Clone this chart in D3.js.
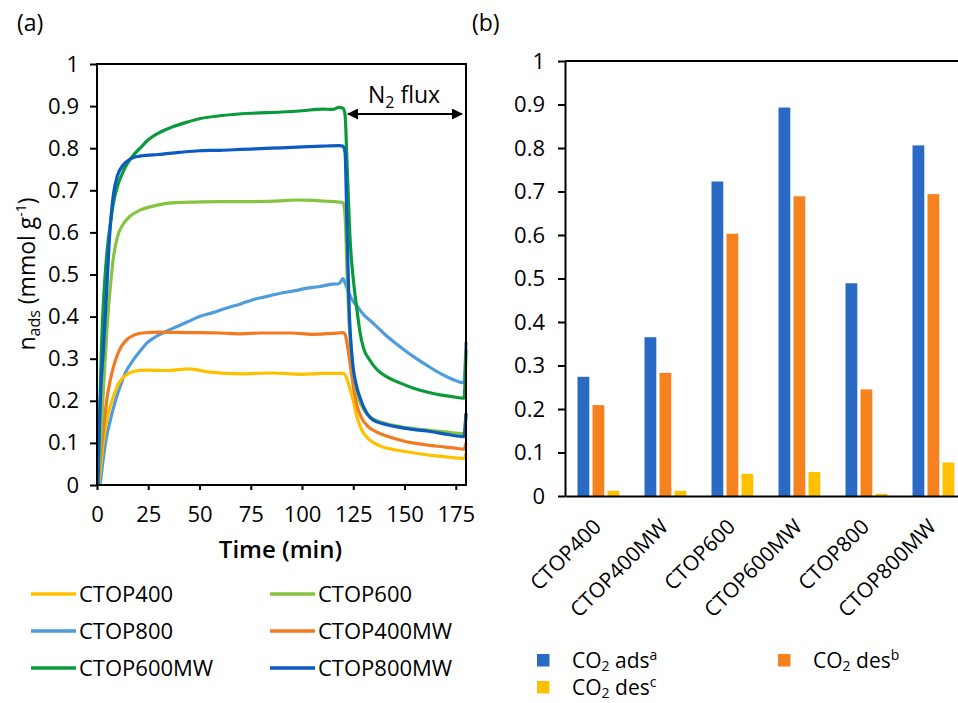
<!DOCTYPE html>
<html>
<head>
<meta charset="utf-8">
<script src="https://cdnjs.cloudflare.com/ajax/libs/d3/7.8.5/d3.min.js"></script>
<style>
  html, body { margin: 0; padding: 0; background: #fff; }
  svg { display: block; font-family: "Open Sans", "Noto Sans", sans-serif; }
</style>
</head>
<body>
<svg id="chart" width="958" height="703"></svg>
<script>
// ---------- DATA: panel (a) ----------
const timeTicks = [0, 25, 50, 75, 100, 125, 150, 175];
const yTicksA = [0, 0.1, 0.2, 0.3, 0.4, 0.5, 0.6, 0.7, 0.8, 0.9, 1];

const ctop400 = [[0.8,0],[1.5,0.03],[3,0.10],[5,0.16],[8,0.21],[11,0.245],[14.5,0.262],[18,0.27],[24,0.273],[35,0.272],[45,0.276],[55,0.268],[70,0.264],[85,0.266],[100,0.263],[110,0.265],[120,0.265],[121,0.262],[123,0.235],[125,0.20],[127,0.158],[129,0.132],[133,0.107],[138,0.093],[146,0.083],[155,0.076],[162,0.071],[170,0.067],[179,0.063],[180,0.075]];
const ctop600 = [[0.5,0],[2,0.12],[3.5,0.26],[5,0.38],[6.5,0.47],[8,0.54],[10,0.59],[12.8,0.62],[16,0.638],[21,0.653],[28,0.663],[34,0.669],[48,0.672],[60,0.673],[75,0.673],[90,0.675],[97,0.677],[105,0.676],[112,0.674],[118,0.672],[120,0.671],[121,0.64],[122,0.5],[123,0.38],[124.5,0.29],[126,0.24],[128,0.2],[130,0.18],[133,0.162],[137,0.152],[141,0.146],[150,0.137],[162,0.13],[170,0.126],[179,0.122],[180,0.17]];
const ctop800 = [[1.5,0],[3,0.06],[4.5,0.11],[6.3,0.15],[9,0.2],[11.2,0.233],[14,0.268],[17.7,0.297],[21,0.318],[24.3,0.337],[30,0.356],[37,0.372],[44,0.387],[50,0.4],[57,0.41],[63,0.42],[70,0.43],[76,0.44],[83,0.448],[89,0.455],[96,0.461],[102,0.467],[108,0.471],[115,0.477],[118,0.478],[120,0.49],[121,0.48],[122.5,0.46],[124.5,0.44],[127,0.424],[130,0.405],[134.8,0.384],[141,0.355],[148,0.328],[154.4,0.305],[161,0.284],[167.4,0.265],[173,0.252],[179,0.243],[180,0.34]];
const ctop400mw = [[0.5,0],[2,0.08],[3.5,0.15],[5,0.21],[6.5,0.25],[8,0.28],[10,0.31],[12,0.33],[14.5,0.345],[18,0.356],[22,0.361],[30,0.363],[45,0.362],[60,0.361],[70,0.359],[80,0.361],[95,0.361],[105,0.358],[115,0.36],[120,0.362],[121,0.358],[122.5,0.32],[124,0.27],[125.5,0.22],[127,0.185],[129,0.16],[132,0.14],[136,0.127],[142,0.115],[150,0.104],[158,0.097],[166,0.092],[174,0.088],[179,0.085],[180,0.1]];
const ctop600mw = [[0.5,0],[1.2,0.15],[2,0.3],[3,0.42],[4,0.5],[5,0.56],[6.5,0.62],[8,0.67],[10,0.71],[12.8,0.745],[15,0.765],[18,0.785],[21,0.8],[25,0.82],[30,0.836],[37,0.851],[44,0.862],[50,0.87],[60,0.877],[75,0.883],[90,0.886],[100,0.889],[110,0.893],[115,0.892],[118,0.897],[120,0.895],[121,0.88],[122,0.76],[123.5,0.58],[125,0.49],[126.7,0.42],[128.4,0.36],[130,0.325],[133,0.297],[137,0.272],[141.4,0.257],[148,0.242],[154.4,0.23],[161,0.221],[167.4,0.214],[173,0.21],[179,0.206],[180,0.32]];
const ctop800mw = [[0.3,0],[1,0.12],[2,0.24],[3.1,0.32],[4.7,0.46],[6,0.58],[8,0.69],[10,0.735],[12.8,0.76],[15,0.77],[17.7,0.778],[22,0.782],[30,0.785],[40,0.79],[50,0.794],[60,0.795],[70,0.797],[80,0.799],[90,0.801],[100,0.803],[110,0.805],[118,0.806],[120,0.805],[121,0.79],[122,0.6],[123,0.42],[124.5,0.3],[126.7,0.233],[128.5,0.205],[130,0.186],[132,0.168],[134.8,0.154],[140,0.145],[146.3,0.138],[154,0.132],[162.5,0.127],[170,0.121],[179,0.115],[180,0.17]];

const lineNames = ["CTOP400", "CTOP600", "CTOP800", "CTOP400MW", "CTOP600MW", "CTOP800MW"];
const lineColors = ["#FFC000", "#86C440", "#4E9BDD", "#F47A22", "#0A9A3C", "#0B5BC2"];
const lineData = [ctop400, ctop600, ctop800, ctop400mw, ctop600mw, ctop800mw];
const drawOrder = [2, 0, 3, 1, 4, 5];

// ---------- DATA: panel (b) ----------
const categories = ["CTOP400", "CTOP400MW", "CTOP600", "CTOP600MW", "CTOP800", "CTOP800MW"];
const co2Ads  = [0.274, 0.365, 0.723, 0.893, 0.489, 0.806];
const co2DesB = [0.209, 0.283, 0.603, 0.689, 0.245, 0.694];
const co2DesC = [0.012, 0.012, 0.051, 0.055, 0.005, 0.077];
const barColors = ["#2A6AC4", "#F5811F", "#FFC000"];
const yTicksB = [0, 0.1, 0.2, 0.3, 0.4, 0.5, 0.6, 0.7, 0.8, 0.9, 1];

const svg = d3.select("#chart");
const fmt = d => d === 0 ? "0" : d === 1 ? "1" : d3.format(".1f")(d);
const FONT = "'Open Sans', 'Noto Sans', sans-serif";
const FS = 22;

// ================= Panel (a) =================
const ax = {l: 97, r: 466, t: 64, b: 485};
const x = d3.scaleLinear().domain([0, 180]).range([ax.l, ax.r]);
const y = d3.scaleLinear().domain([0, 1]).range([ax.b, ax.t]);

svg.append("text").attr("x", 17).attr("y", 31).attr("font-size", 23).text("(a)");

const lineGen = d3.line().x(d => x(d[0])).y(d => y(d[1])).curve(d3.curveMonotoneX);
const gLines = svg.append("g");
drawOrder.forEach(i => {
  gLines.append("path").datum(lineData[i])
    .attr("d", lineGen).attr("fill", "none")
    .attr("stroke", lineColors[i]).attr("stroke-width", 3.2)
    .attr("stroke-linejoin", "round");
});

// frame
svg.append("rect").attr("x", ax.l).attr("y", ax.t).attr("width", ax.r - ax.l).attr("height", ax.b - ax.t)
  .attr("fill", "none").attr("stroke", "#000").attr("stroke-width", 2);

const yAxA = svg.append("g").attr("transform", `translate(${ax.l},0)`)
  .call(d3.axisLeft(y).tickValues(yTicksA).tickFormat(fmt).tickSize(7).tickSizeOuter(0).tickPadding(11));
const xAxA = svg.append("g").attr("transform", `translate(0,${ax.b})`)
  .call(d3.axisBottom(x).tickValues(timeTicks).tickSize(5).tickSizeOuter(0).tickPadding(16));
[yAxA, xAxA].forEach(g => {
  g.select(".domain").remove();
  g.selectAll("line").attr("stroke", "#000").attr("stroke-width", 2);
  g.selectAll("text").attr("font-size", FS).attr("fill", "#000").attr("font-family", FONT);
});

svg.append("text").attr("x", (ax.l + ax.r) / 2 - 1).attr("y", 558).attr("text-anchor", "middle")
  .attr("font-size", 24).attr("font-weight", 600).text("Time (min)");

const yt = svg.append("text").attr("transform", "translate(35,274) rotate(-90)").attr("text-anchor", "middle")
  .attr("font-size", 23);
yt.append("tspan").text("n");
yt.append("tspan").attr("font-size", 16).attr("dy", 5).text("ads");
yt.append("tspan").attr("dy", -5).text(" (mmol g");
yt.append("tspan").attr("font-size", 14).attr("dy", -9).text("-1");
yt.append("tspan").attr("dy", 9).text(")");

// N2 flux arrow
const defs = svg.append("defs");
defs.append("marker").attr("id", "ah").attr("viewBox", "0 0 10 10").attr("refX", 9).attr("refY", 5)
  .attr("markerWidth", 5).attr("markerHeight", 5).attr("orient", "auto-start-reverse")
  .append("path").attr("d", "M0,0 L10,5 L0,10 z").attr("fill", "#000");
svg.append("line").attr("x1", x(122.5)).attr("x2", x(178)).attr("y1", 114).attr("y2", 114)
  .attr("stroke", "#000").attr("stroke-width", 2.2)
  .attr("marker-start", "url(#ah)").attr("marker-end", "url(#ah)");
const nf = svg.append("text").attr("x", 404).attr("y", 103).attr("text-anchor", "middle").attr("font-size", 23);
nf.append("tspan").text("N");
nf.append("tspan").attr("font-size", 16).attr("dy", 5).text("2");
nf.append("tspan").attr("dy", -5).text(" flux");

// legend (a)
const legA = svg.append("g");
lineNames.forEach((n, i) => {
  const col = i % 2, row = Math.floor(i / 2);
  const lx = col === 0 ? 31 : 270, ly = 594 + row * 37;
  legA.append("line").attr("x1", lx).attr("x2", lx + 45).attr("y1", ly).attr("y2", ly)
    .attr("stroke", lineColors[i]).attr("stroke-width", 3.5);
  legA.append("text").attr("x", lx + 48).attr("y", ly).attr("dy", "0.36em").attr("font-size", 22).text(n);
});

// ================= Panel (b) =================
const bx = {l: 565, t: 61, b: 496};
const xb = d3.scaleBand().domain(categories).range([bx.l, bx.l + 67 * 6]).paddingInner(0).paddingOuter(0);
const yb = d3.scaleLinear().domain([0, 1]).range([bx.b, bx.t]);
const series = [co2Ads, co2DesB, co2DesC];
const barW = 11.8, barStep = 15;

svg.append("text").attr("x", 472).attr("y", 31).attr("font-size", 23).text("(b)");

const gBars = svg.append("g");
series.forEach((vals, s) => {
  gBars.selectAll(null).data(categories).enter().append("rect")
    .attr("x", (c) => xb(c) + xb.bandwidth() / 2 - 21 + s * barStep)
    .attr("width", barW)
    .attr("y", (c, i) => yb(vals[i]))
    .attr("height", (c, i) => yb(0) - yb(vals[i]))
    .attr("fill", barColors[s]);
});

// top line
svg.append("line").attr("x1", bx.l).attr("x2", 958).attr("y1", bx.t).attr("y2", bx.t)
  .attr("stroke", "#000").attr("stroke-width", 2);
const yAxB = svg.append("g").attr("transform", `translate(${bx.l},0)`)
  .call(d3.axisLeft(yb).tickValues(yTicksB).tickFormat(fmt).tickSize(7).tickSizeOuter(0).tickPadding(13));
yAxB.select(".domain").attr("stroke", "#000").attr("stroke-width", 2);
yAxB.selectAll("line").attr("stroke", "#000").attr("stroke-width", 2);
yAxB.selectAll("text").attr("font-size", FS).attr("fill", "#000").attr("font-family", FONT);

const xAxB = svg.append("g").attr("transform", `translate(0,${bx.b})`)
  .call(d3.axisBottom(xb).tickSize(0).tickSizeOuter(0));
xAxB.select(".domain").attr("stroke", "#000").attr("stroke-width", 2);
xAxB.selectAll("text").attr("font-size", 21).attr("fill", "#000").attr("font-family", FONT)
  .attr("text-anchor", "end").attr("dy", 0).attr("y", 0)
  .attr("transform", "translate(4,32) rotate(-45)");

// legend (b)
const legB = [
  {x: 537, y: 654, c: barColors[0], t: "ads", sup: "a"},
  {x: 778, y: 654, c: barColors[1], t: "des", sup: "b"},
  {x: 537, y: 681, c: barColors[2], t: "des", sup: "c"}
];
legB.forEach(d => {
  svg.append("rect").attr("x", d.x).attr("y", d.y).attr("width", 12.5).attr("height", 12.5).attr("fill", d.c);
  const t = svg.append("text").attr("x", d.x + 35).attr("y", d.y + 14).attr("font-size", 21);
  t.append("tspan").text("CO");
  t.append("tspan").attr("font-size", 14).attr("dy", 3).text("2");
  t.append("tspan").attr("dy", -3).text(" " + d.t);
  t.append("tspan").attr("font-size", 14).attr("dy", -8).text(d.sup);
});
</script>
</body>
</html>
